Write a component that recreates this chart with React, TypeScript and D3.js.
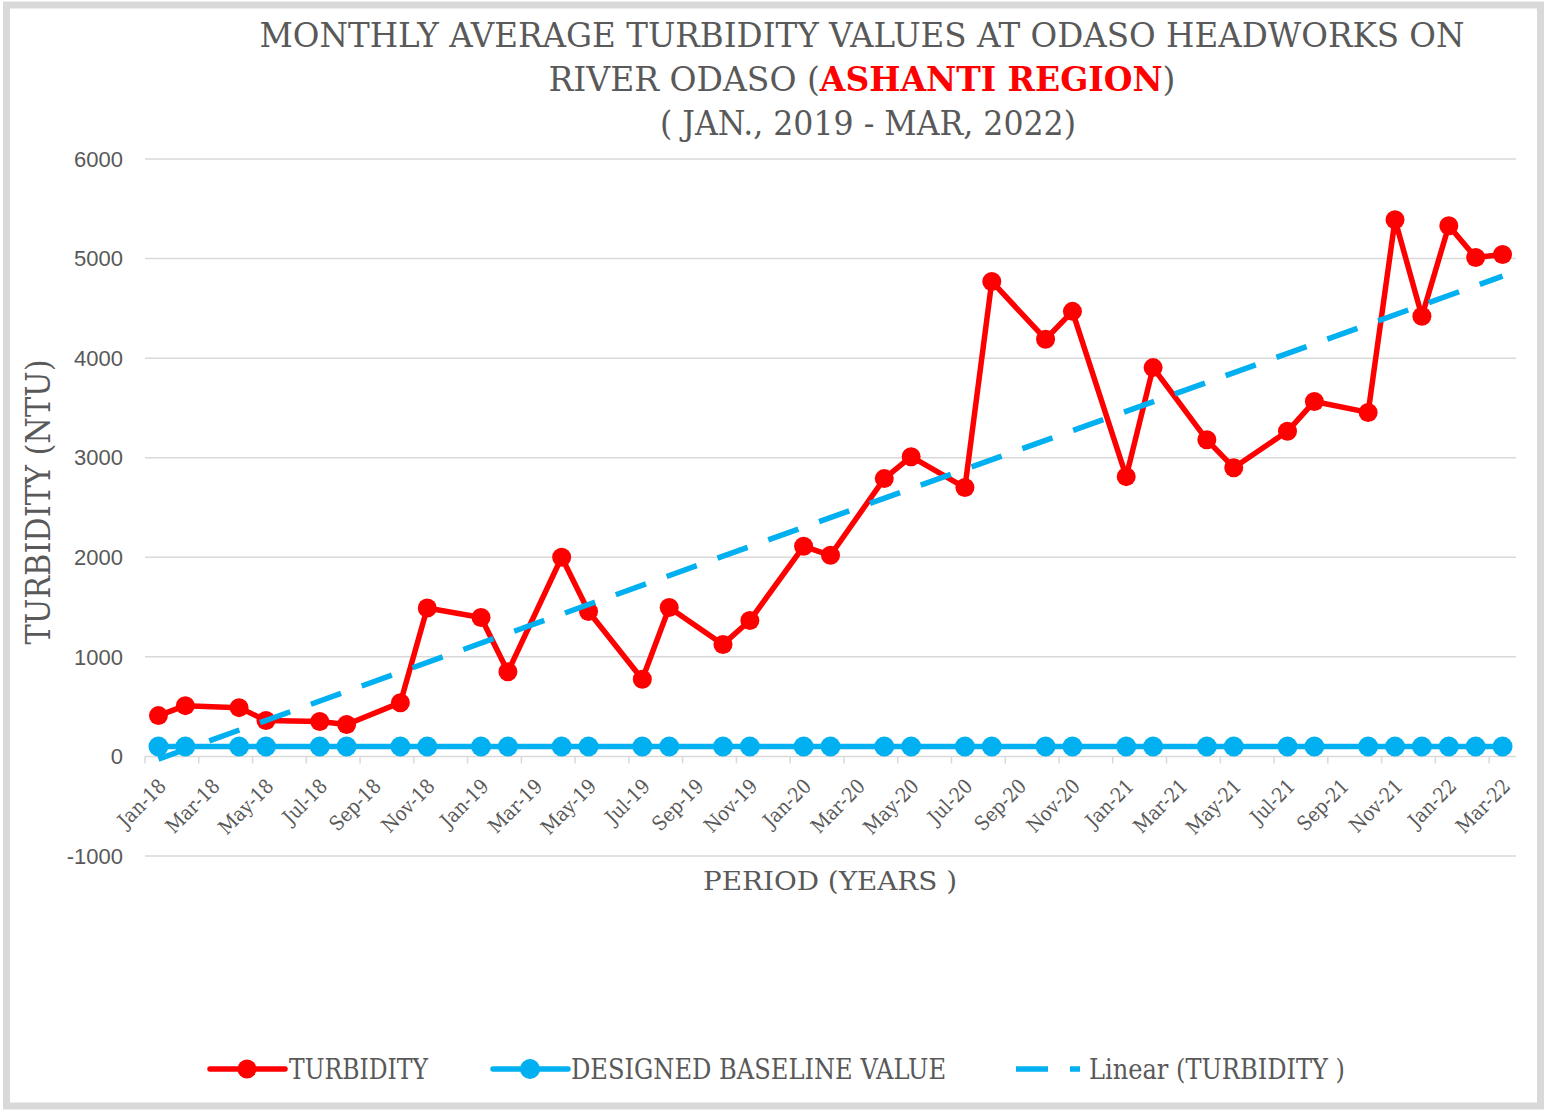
import React from 'react';
import * as d3 from 'd3';

// sampling months and monthly average turbidity (NTU)
const months = [
  'Jan-18', 'Feb-18', 'Apr-18', 'May-18', 'Jul-18', 'Aug-18', 'Oct-18', 'Nov-18',
  'Jan-19', 'Feb-19', 'Apr-19', 'May-19', 'Jul-19', 'Aug-19', 'Oct-19', 'Nov-19',
  'Jan-20', 'Feb-20', 'Apr-20', 'May-20', 'Jul-20', 'Aug-20', 'Oct-20', 'Nov-20',
  'Jan-21', 'Feb-21', 'Apr-21', 'May-21', 'Jul-21', 'Aug-21', 'Oct-21', 'Nov-21',
  'Dec-21', 'Jan-22', 'Feb-22', 'Mar-22',
];
const turbidity = [
  410, 510, 490, 360, 350, 320, 540, 1490,
  1395, 850, 2000, 1455, 775, 1495, 1125, 1365,
  2110, 2020, 2790, 3010, 2700, 4770, 4190, 4470,
  2810, 3905, 3180, 2900, 3265, 3565, 3455, 5390,
  4420, 5330, 5010, 5040,
];
const baseline = [
  100, 100, 100, 100, 100, 100, 100, 100,
  100, 100, 100, 100, 100, 100, 100, 100,
  100, 100, 100, 100, 100, 100, 100, 100,
  100, 100, 100, 100, 100, 100, 100, 100,
  100, 100, 100, 100,
];
const xTickLabels = [
  'Jan-18', 'Mar-18', 'May-18', 'Jul-18', 'Sep-18', 'Nov-18',
  'Jan-19', 'Mar-19', 'May-19', 'Jul-19', 'Sep-19', 'Nov-19',
  'Jan-20', 'Mar-20', 'May-20', 'Jul-20', 'Sep-20', 'Nov-20',
  'Jan-21', 'Mar-21', 'May-21', 'Jul-21', 'Sep-21', 'Nov-21',
  'Jan-22', 'Mar-22',
];
const yTicks = [-1000, 0, 1000, 2000, 3000, 4000, 5000, 6000];

const RED = '#FF0000';
const BLUE = '#00B0F0';
const GREY_TEXT = '#595959';
const GRID = '#d9d9d9';
const SERIF = '"DejaVu Serif Condensed", "DejaVu Serif", serif';
const SANS = '"Liberation Sans", Arial, sans-serif';

const parseMonth = d3.timeParse('%b-%y');
// month slot index counted from Jan 2018
const monthIndex = (label: string) => {
  const d = parseMonth(label) as Date;
  return (d.getFullYear() - 2018) * 12 + d.getMonth();
};

export default function App() {
  const width = 1549;
  const height = 1110;
  const plot = { left: 145, right: 1516, top: 159, bottom: 856 };

  const x = d3.scaleLinear().domain([0, 51]).range([plot.left, plot.right]);
  const y = d3.scaleLinear().domain([-1000, 6000]).range([plot.bottom, plot.top]);

  const xs = months.map(m => monthIndex(m) + 0.5);

  const redPts = xs.map((v, i) => [x(v), y(turbidity[i])] as [number, number]);
  const bluePts = xs.map((v, i) => [x(v), y(baseline[i])] as [number, number]);
  const line = d3.line<[number, number]>();

  // least-squares trend, like Excel's linear trendline
  const mx = d3.mean(xs) as number;
  const my = d3.mean(turbidity) as number;
  const slope =
    d3.sum(xs, (v, i) => (v - mx) * (turbidity[i] - my)) /
    d3.sum(xs, v => (v - mx) * (v - mx));
  const icpt = my - slope * mx;
  const x0 = xs[0];
  const x1 = xs[xs.length - 1];
  const trendPath = line([
    [x(x0), y(icpt + slope * x0)],
    [x(x1), y(icpt + slope * x1)],
  ]);

  const tickIdx = d3.range(0, 51, 2);

  return (
    <svg
      width={width}
      height={height}
      style={{ position: 'absolute', left: 0, top: 0, background: '#fff' }}
    >
      <rect x={6.5} y={5} width={1534} height={1101} fill="#fff" stroke={GRID} strokeWidth={7} />

      {/* title */}
      <g fill={GREY_TEXT} fontFamily={SERIF} fontSize={34} textAnchor="middle">
        <text x={862} y={47} textLength={1205} lengthAdjust="spacingAndGlyphs">
          MONTHLY AVERAGE TURBIDITY VALUES AT ODASO HEADWORKS ON
        </text>
        <text x={862} y={91} textLength={627} lengthAdjust="spacingAndGlyphs">
          RIVER ODASO (<tspan fill={RED} fontWeight="bold">ASHANTI REGION</tspan>)
        </text>
        <text x={868} y={135} textLength={416} lengthAdjust="spacingAndGlyphs">
          ( JAN., 2019 - MAR, 2022)
        </text>
      </g>

      {/* gridlines and y labels */}
      {yTicks.map(t => (
        <g key={t}>
          <line x1={plot.left} x2={plot.right} y1={y(t)} y2={y(t)} stroke={GRID} strokeWidth={1.5} />
          <text
            x={123}
            y={y(t)}
            dy="0.35em"
            textAnchor="end"
            fontFamily={SANS}
            fontSize={22}
            fill={GREY_TEXT}
          >
            {t}
          </text>
        </g>
      ))}

      {/* x axis ticks at slot boundaries, labels at slot centres */}
      {tickIdx.map((m, i) => (
        <g key={m}>
          <line x1={x(m)} x2={x(m)} y1={y(0)} y2={y(0) + 7} stroke={GRID} strokeWidth={1.5} />
          <text
            transform={`translate(${x(m + 0.5) + 4},${y(0) + 26}) rotate(-45)`}
            dy="0.35em"
            textAnchor="end"
            fontFamily={SERIF}
            fontSize={20}
            fill={GREY_TEXT}
          >
            {xTickLabels[i]}
          </text>
        </g>
      ))}

      {/* axis titles */}
      <text
        transform="translate(50,502) rotate(-90)"
        textAnchor="middle"
        fontFamily={SERIF}
        fontSize={34}
        fill={GREY_TEXT}
        textLength={285}
        lengthAdjust="spacingAndGlyphs"
      >
        TURBIDITY (NTU)
      </text>
      <text
        x={830}
        y={890}
        textAnchor="middle"
        fontFamily={SERIF}
        fontSize={26}
        fill={GREY_TEXT}
        textLength={254}
        lengthAdjust="spacingAndGlyphs"
      >
        PERIOD (YEARS )
      </text>

      {/* turbidity series */}
      <path d={line(redPts) || ''} fill="none" stroke={RED} strokeWidth={5.5} strokeLinejoin="round" />
      {redPts.map((p, i) => (
        <circle key={i} cx={p[0]} cy={p[1]} r={9.5} fill={RED} />
      ))}

      {/* designed baseline */}
      <path d={line(bluePts) || ''} fill="none" stroke={BLUE} strokeWidth={5.5} />
      {bluePts.map((p, i) => (
        <circle key={i} cx={p[0]} cy={p[1]} r={10} fill={BLUE} />
      ))}

      {/* linear trend */}
      <path d={trendPath || ''} fill="none" stroke={BLUE} strokeWidth={5.5} strokeDasharray="32 22" />

      {/* legend */}
      <g fontFamily={SERIF} fontSize={27} fill={GREY_TEXT}>
        <line x1={210} x2={285} y1={1069} y2={1069} stroke={RED} strokeWidth={5.5} strokeLinecap="round" />
        <circle cx={247} cy={1069} r={9.5} fill={RED} />
        <text x={289} y={1079} textLength={139} lengthAdjust="spacingAndGlyphs">TURBIDITY</text>

        <line x1={493} x2={568} y1={1069} y2={1069} stroke={BLUE} strokeWidth={5.5} strokeLinecap="round" />
        <circle cx={530} cy={1069} r={10} fill={BLUE} />
        <text x={571} y={1079} textLength={375} lengthAdjust="spacingAndGlyphs">DESIGNED BASELINE VALUE</text>

        <line x1={1016} x2={1080} y1={1069} y2={1069} stroke={BLUE} strokeWidth={5.5} strokeDasharray="32 22" />
        <text x={1089} y={1079} textLength={256} lengthAdjust="spacingAndGlyphs">Linear (TURBIDITY )</text>
      </g>
    </svg>
  );
}
